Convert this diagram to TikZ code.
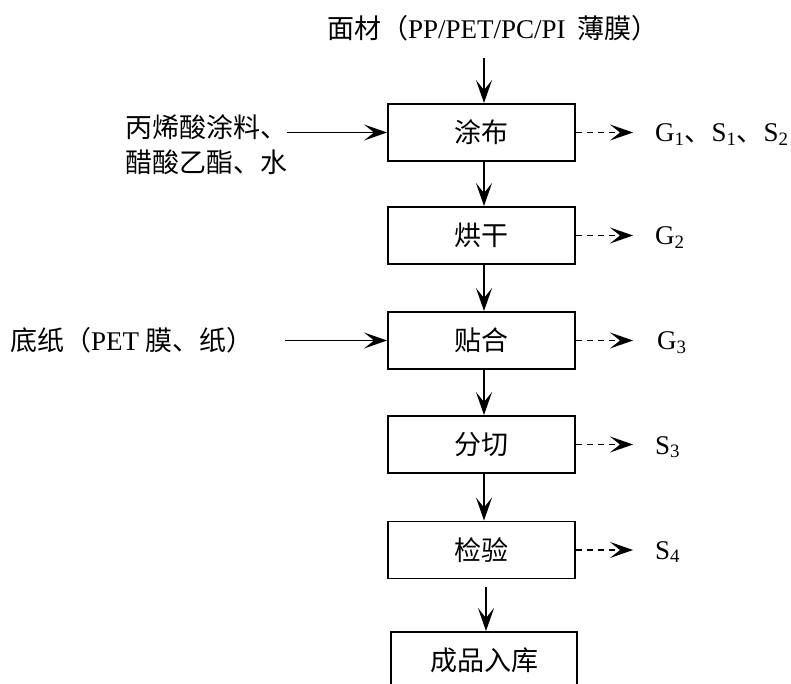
\documentclass[tikz,border=0pt]{standalone}
\usepackage{fontspec}
\setmainfont{Liberation Serif}
\newfontfamily\cjk{Noto Sans CJK SC}
\usetikzlibrary{arrows.meta}
\newcommand{\zh}[1]{{\cjk #1}}
\begin{document}
\begin{tikzpicture}[x=1pt,y=-1pt,
  box/.style={draw, line width=1.9pt, minimum width=187pt, minimum height=57pt, inner sep=0pt,
    font=\cjk\fontsize{27}{32}\selectfont},
  lab/.style={inner sep=0pt, font=\fontsize{27}{35}\selectfont},
  arr/.style={line width=1.9pt, -{Stealth[length=23pt,width=16pt,inset=10pt]}},
  dsh/.style={arr, dash pattern=on 6pt off 5pt}]
\clip (0,0) rectangle (791,684);
\fill[white] (0,0) rectangle (791,684);
% process boxes
\node[box] (a) at (481.5,132.5) {涂布};
\node[box] (b) at (481.5,235.5) {烘干};
\node[box] (c) at (481.5,340.5) {贴合};
\node[box] (d) at (481.5,444.5) {分切};
\node[box] (e) at (481.5,550) {检验};
\node[box, minimum width=186pt] (f) at (484,660.5) {成品入库};
% inputs
\node[lab] (top) at (493,28) {\zh{面材（}PP/PET/PC/PI\hspace{0.45em}\zh{薄膜）}};
\coordinate (s0) at (484,58);
\node[lab, anchor=west, align=left] (in1) at (125,144.5) {\zh{丙烯酸涂料、}\\\zh{醋酸乙酯、水}};
\node[lab, anchor=west] (in2) at (10,340.5) {\zh{底纸（}PET \zh{膜、纸）}};
\coordinate (s1) at (287,132.5);
\coordinate (s2) at (285,340.5);
% outputs
\node[lab, anchor=base west] (o1) at (655,142) {G\textsubscript{1}\zh{、}S\textsubscript{1}\zh{、}S\textsubscript{2}};
\node[lab, anchor=base west] (o2) at (655,244.5) {G\textsubscript{2}};
\node[lab, anchor=base west] (o3) at (657,349.5) {G\textsubscript{3}};
\node[lab, anchor=base west] (o4) at (655,454) {S\textsubscript{3}};
\node[lab, anchor=base west] (o5) at (655,559) {S\textsubscript{4}};
\coordinate (t1) at ([xshift=-22pt]o1.west);
\coordinate (t2) at ([xshift=-22pt]o2.west);
\coordinate (t3) at ([xshift=-24pt]o3.west);
\coordinate (t4) at ([xshift=-22pt]o4.west);
\coordinate (t5) at ([xshift=-22pt]o5.west);
% main flow
\draw[arr] (s0) -- ([xshift=2.5pt]a.north);
\draw[arr] ([xshift=2.5pt]a.south) -- ([xshift=2.5pt]b.north);
\draw[arr] ([xshift=2.5pt]b.south) -- ([xshift=2.5pt]c.north);
\draw[arr] ([xshift=2.5pt]c.south) -- ([xshift=2.5pt]d.north);
\draw[arr] ([xshift=2.5pt]d.south) -- ([xshift=2.5pt]e.north);
\draw[arr] ([xshift=4.5pt,yshift=-8pt]e.south) -- ([xshift=2pt]f.north);
\draw[arr] (s1) -- (a.west);
\draw[arr] (s2) -- (c.west);
% emissions
\draw[dsh] (a.east) -- (a.east -| t1);
\draw[dsh] (b.east) -- (b.east -| t2);
\draw[dsh] (c.east) -- (c.east -| t3);
\draw[dsh] (d.east) -- (d.east -| t4);
\draw[dsh] (e.east) -- (e.east -| t5);
\end{tikzpicture}
\end{document}
